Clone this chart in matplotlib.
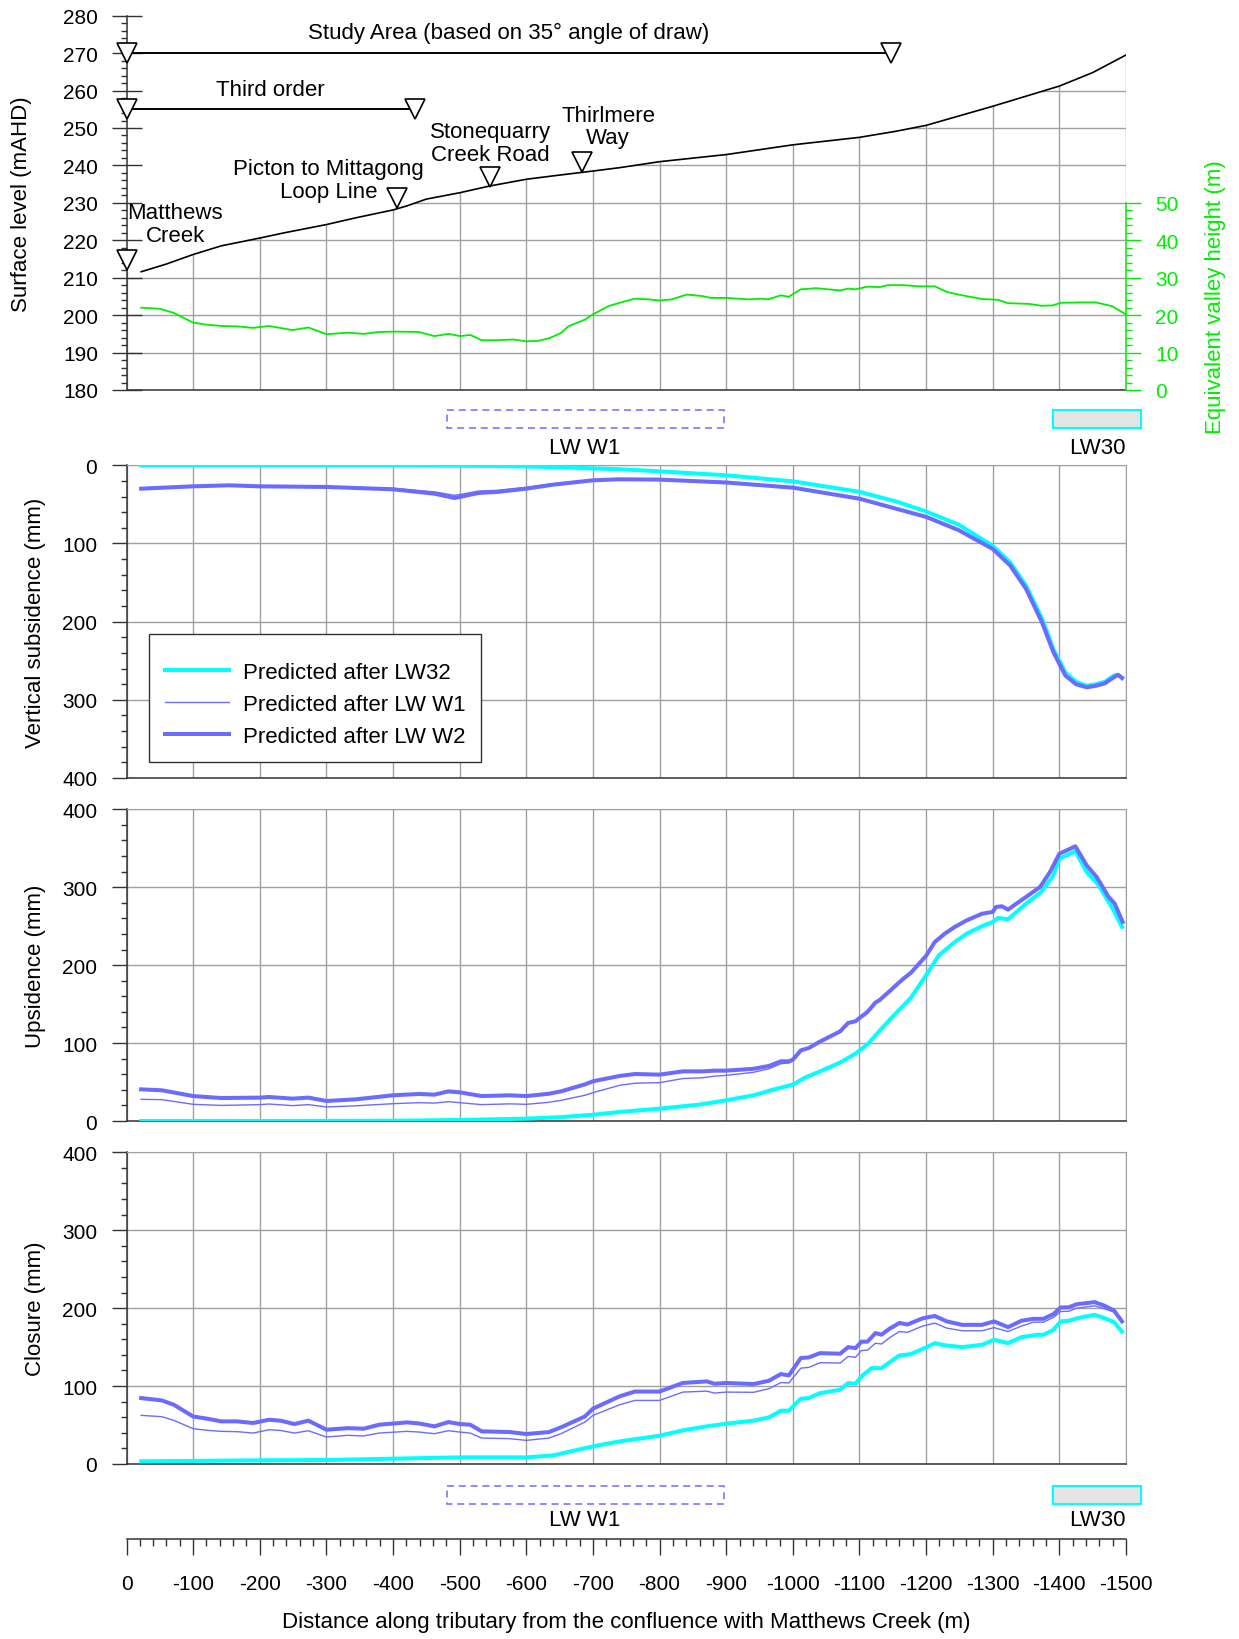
import matplotlib
matplotlib.use('Agg')
import matplotlib.pyplot as plt
from matplotlib.ticker import MultipleLocator, FixedLocator
from matplotlib.patches import Rectangle, Polygon

plt.rcParams['font.family'] = ['Liberation Sans', 'DejaVu Sans']
plt.rcParams['font.size'] = 16
plt.rcParams['axes.unicode_minus'] = False
plt.rcParams['lines.scale_dashes'] = False

# ---------------- data ----------------
surf_x = [-22, -59, -100, -142, -200, -237, -300, -344, -400, -421, -450, -500, -545, -600, -640,
          -700, -740, -800, -900, -1000, -1100, -1154, -1200, -1300, -1350, -1400, -1450, -1500]
surf_y = [211.6, 213.6, 216.2, 218.5, 220.6, 222.0, 224.2, 226.0, 228.1, 229.2, 231.0, 232.7, 234.5,
          236.3, 237.2, 238.5, 239.4, 241.0, 242.9, 245.5, 247.5, 249.1, 250.7, 255.8, 258.5, 261.2,
          264.8, 269.5]

valley_x = [-22, -50, -71, -100, -118, -142, -166, -190, -214, -249, -273, -300, -332, -356, -379, -403,
            -439, -462, -483, -501, -516, -533, -557, -581, -600, -617, -634, -652, -663, -688, -700,
            -723, -740, -763, -785, -800, -818, -841, -864, -877, -900, -935, -953, -963, -982, -994,
            -1000, -1012, -1035, -1071, -1083, -1094, -1112, -1130, -1143, -1166, -1189, -1213, -1231,
            -1254, -1284, -1308, -1323, -1355, -1373, -1390, -1402, -1432, -1455, -1479, -1500]
valley_y = [22.0, 21.7, 20.6, 18.0, 17.5, 17.1, 17.0, 16.6, 17.1, 16.0, 16.7, 14.9, 15.3, 15.0, 15.5,
            15.6, 15.5, 14.4, 15.0, 14.4, 14.7, 13.3, 13.3, 13.5, 13.0, 13.1, 13.8, 15.2, 17.0, 18.8,
            20.2, 22.4, 23.3, 24.4, 24.2, 23.9, 24.2, 25.5, 25.1, 24.6, 24.6, 24.2, 24.4, 24.2, 25.3,
            24.9, 25.6, 26.9, 27.2, 26.6, 27.1, 26.9, 27.6, 27.5, 28.0, 28.0, 27.7, 27.7, 26.2, 25.3,
            24.3, 24.1, 23.2, 23.0, 22.5, 22.6, 23.3, 23.4, 23.4, 22.4, 20.2]

# Vertical subsidence (mm)
subs_lw32_x = [-22, -100, -200, -300, -400, -500, -560, -600, -650, -700, -740, -800, -900, -1000,
               -1100, -1154, -1200, -1249, -1300, -1326, -1350, -1374, -1391, -1409, -1425, -1441,
               -1455, -1468, -1482, -1488, -1494]
subs_lw32_y = [0, 0, 0, 0, 0, 0.5, 1, 1.5, 2.5, 4, 5, 7.7, 12.8, 20.5, 34, 46, 59, 76, 103, 124, 154,
               196, 235, 265, 277, 282, 280, 277, 269, 268, 272]
subs_w_x = [-22, -100, -154, -200, -300, -400, -462, -492, -500, -528, -557, -600, -640, -700, -740,
            -800, -900, -1000, -1100, -1200, -1249, -1300, -1326, -1350, -1374, -1391, -1409, -1425,
            -1441, -1455, -1468, -1482, -1488, -1494]
subs_w1_y = [29.5, 26.5, 25.2, 26.5, 27.0, 29.5, 34.0, 38.4, 37.5, 33.0, 32.0, 28.2, 23.5, 18.5, 17.5,
             18.0, 21.8, 28.5, 42.5, 66, 83, 107, 128, 158, 201, 239, 269, 280, 284, 282, 279, 271,
             268, 272]
subs_w2_y = [29.9, 26.9, 25.6, 26.9, 27.7, 30.7, 36.3, 41.8, 40.5, 35.4, 34.0, 29.9, 24.8, 19.2, 17.9,
             18.3, 22, 28.6, 42.7, 66, 83, 107, 128, 158, 201, 239, 269, 280, 284, 282, 279, 271,
             268, 272]

# Upsidence (mm)
ups_lw32_x = [-22, -200, -400, -500, -600, -652, -700, -740, -800, -859, -900, -941, -976, -1000,
              -1018, -1041, -1071, -1094, -1112, -1130, -1147, -1177, -1200, -1219, -1243, -1261,
              -1284, -1300, -1308, -1323, -1350, -1373, -1391, -1400, -1424, -1441, -1459, -1480, -1494]
ups_lw32_y = [0, 0, 0.3, 1.3, 3, 5, 8, 11.6, 15.8, 21, 26.5, 33, 41.5, 46.6, 55.6, 63.7, 75, 86.4,
              98.3, 115.5, 131.3, 158, 187, 212.6, 229.6, 240.4, 250, 255.4, 260.5, 258.8, 278.9, 294,
              315, 336.7, 346, 319.6, 302.5, 272.5, 249]
ups_w_x = [-22, -53, -100, -142, -200, -214, -249, -273, -300, -344, -400, -439, -462, -483, -500,
           -533, -575, -600, -634, -652, -688, -700, -740, -763, -800, -835, -865, -882, -900, -941,
           -964, -982, -994, -1000, -1012, -1024, -1041, -1071, -1083, -1094, -1112, -1124, -1130,
           -1147, -1165, -1177, -1200, -1213, -1228, -1243, -1261, -1284, -1300, -1305, -1314, -1323,
           -1332, -1350, -1371, -1386, -1400, -1424, -1441, -1456, -1474, -1483, -1495]
ups_w2_y = [40.6, 39.4, 32, 29.5, 30, 30.8, 28.7, 30, 25.7, 27.8, 33, 34.7, 33.8, 38, 36.8, 32, 33, 32,
            35, 38, 47, 51, 57.8, 60.3, 59.5, 63.7, 63.7, 64.6, 64.6, 67, 70.6, 76.6, 76.6, 78.7,
            90.6, 93.7, 102, 115, 125.8, 128, 140, 152, 155, 168, 182, 190, 212, 229.6, 240.4, 249,
            257.5, 266, 268.3, 274.7, 275.5, 271.2, 276.8, 287.5, 300.3, 319.6, 343, 352.5, 328, 313,
            287.5, 279, 255.4]
ups_w1_y = [27.8, 27.4, 21.4, 20.0, 21.0, 21.8, 19.7, 21.0, 18.0, 19.5, 22.2, 23.5, 23.0, 24.8, 23.5,
            21.0, 22.0, 21.4, 24.0, 26.5, 33.0, 36.4, 45.8, 48.5, 49.2, 54.5, 55.5, 57.5, 58.6, 62.5,
            67.0, 73.5, 74.4, 77.0, 90.6, 93.7, 102, 115, 125.8, 128, 140, 152, 155, 168, 182, 190,
            212, 229.6, 240.4, 249, 257.5, 266, 268.3, 274.7, 275.5, 271.2, 276.8, 287.5, 300.3,
            319.6, 343, 352.5, 328, 313, 287.5, 279, 255.4]

# Closure (mm)
clo_lw32_x = [-22, -200, -300, -400, -500, -600, -640, -700, -740, -800, -835, -871, -900, -941, -964,
              -982, -994, -1012, -1024, -1041, -1071, -1083, -1094, -1103, -1118, -1133, -1147, -1160,
              -1177, -1200, -1213, -1231, -1254, -1284, -1302, -1323, -1343, -1367, -1376, -1391,
              -1402, -1414, -1426, -1453, -1468, -1482, -1494]
clo_lw32_y = [3.4, 4.7, 5.1, 6.8, 8.5, 8.5, 11, 22.6, 29, 36.3, 43.2, 48.3, 51.7, 55.6, 59.8, 68.4,
              68.4, 83.8, 84.6, 91, 95.3, 104, 103, 112.4, 123, 123, 131.6, 139.3, 141, 149.6, 155,
              152, 150, 153, 159.4, 155, 162.8, 165.8, 165.8, 172, 183, 183.8, 187, 191.5, 187, 182,
              170]
clo_w_x = [-22, -53, -71, -100, -124, -142, -166, -190, -214, -231, -252, -273, -300, -332, -356, -379,
           -421, -439, -462, -483, -500, -516, -533, -575, -600, -634, -652, -688, -700, -740, -763,
           -800, -835, -871, -882, -900, -941, -964, -982, -994, -1012, -1024, -1041, -1071, -1083,
           -1094, -1103, -1112, -1124, -1133, -1145, -1160, -1172, -1195, -1213, -1231, -1254, -1284,
           -1302, -1323, -1343, -1361, -1376, -1391, -1402, -1414, -1426, -1453, -1468, -1482, -1494]
clo_w2_y = [84.6, 81.6, 76, 61, 57.7, 54.7, 54.7, 52.6, 56.8, 55.6, 51.3, 55.6, 44, 46, 45.3, 50.4,
            53.4, 52, 48.3, 53.8, 51.3, 50.4, 41.9, 41, 38.5, 41, 47, 61, 71, 86.8, 93, 93, 104, 106,
            103, 104, 102.6, 106.8, 115.4, 113.7, 136, 136.8, 142.3, 141.5, 150, 148.7, 157, 157,
            168, 166, 173.5, 181, 179, 187, 190, 183, 178.6, 178.6, 183, 175.6, 183.8, 186.3, 186.3,
            192.3, 200.9, 201, 205, 207.7, 203, 197, 183]
clo_w1_y = [62.4, 60.7, 56, 45.3, 43, 41.9, 41.5, 39.7, 44, 43, 39.7, 42.7, 34.6, 36.8, 36, 39.7,
            41.9, 41, 38.9, 42.7, 41, 39.7, 33.3, 32.5, 30.3, 33.3, 38.9, 53.8, 62.4, 76, 81.6, 81.6,
            92.3, 93.5, 91, 92.3, 92, 96.6, 104.5, 104, 123, 124, 130, 129.5, 138, 137, 145.7, 146,
            155, 154, 162, 170, 169, 177, 180.8, 174.4, 171, 171, 175, 170, 177, 182, 182, 188,
            195.7, 196, 200, 203, 199, 195, 181.6]

series_labels = ['Predicted after LW32', 'Predicted after LW W1', 'Predicted after LW W2']
xtick_vals = list(range(0, -1501, -100))

# ---------------- styling ----------------
CYAN = '#00FFFF'
BLUE = '#6B6BFF'
GREEN = '#00EE00'
GRIDC = '#A0A0A0'
DARK = '#333333'
TXT = 16      # annotation / label size
TCK = 15      # tick label size

FW, FH = 1239, 1640
fig = plt.figure(figsize=(FW / 100, FH / 100), dpi=100)
L = 126.5 / FW
W = (1126 - 126.5) / FW


def pos(top_px, bot_px):
    return [L, 1 - bot_px / FH, W, (bot_px - top_px) / FH]


ax1 = fig.add_axes(pos(16.7, 391))
ax2 = ax1.twinx()
axS = fig.add_axes(pos(466.3, 779))
axU = fig.add_axes(pos(810.3, 1122))
axC = fig.add_axes(pos(1153.3, 1465))
axB = fig.add_axes([L, 1 - 1540 / FH, W, 0.0001])
axO = fig.add_axes([L, 0, W, 1])


def style_panel(ax, ylim, ylabel):
    ax.set_xlim(0, -1500)
    ax.set_ylim(*ylim)
    ax.xaxis.set_major_locator(FixedLocator(xtick_vals))
    ax.yaxis.set_major_locator(MultipleLocator(100))
    ax.yaxis.set_minor_locator(MultipleLocator(20))
    ax.grid(True, which='major', color=GRIDC, lw=1.0)
    ax.set_axisbelow(True)
    ax.tick_params(axis='x', which='both', length=0, labelbottom=False)
    ax.tick_params(axis='y', which='major', direction='out', length=11, width=1, color=DARK,
                   pad=10, labelsize=TCK)
    ax.tick_params(axis='y', which='minor', direction='out', length=4.5, width=1, color=DARK)
    for s in ['top', 'right']:
        ax.spines[s].set_color(GRIDC)
    for s in ['left', 'bottom']:
        ax.spines[s].set_color(DARK)
        ax.spines[s].set_linewidth(1.1)
    ax.set_ylabel(ylabel, fontsize=TXT)
    ax.yaxis.set_label_coords(-0.0805, 0.5)


# ---- top panel ----
ax1.set_xlim(0, -1500)
ax1.set_ylim(180, 280)
ax1.xaxis.set_major_locator(FixedLocator(xtick_vals))
ax1.yaxis.set_major_locator(MultipleLocator(10))
ax1.yaxis.set_minor_locator(MultipleLocator(2))
ax1.grid(True, which='major', color=GRIDC, lw=1.0)
ax1.set_axisbelow(True)
ax1.tick_params(axis='x', which='both', length=0, labelbottom=False)
ax1.tick_params(axis='y', which='major', direction='inout', length=21, width=1, color=DARK, pad=10,
                labelsize=TCK)
ax1.tick_params(axis='y', which='minor', direction='out', length=4.5, width=1, color=DARK)
ax1.spines['top'].set_visible(False)
ax1.spines['right'].set_visible(False)
for s in ['left', 'bottom']:
    ax1.spines[s].set_color(DARK)
    ax1.spines[s].set_linewidth(1.1)
ax1.set_ylabel('Surface level (mAHD)', fontsize=TXT)
ax1.yaxis.set_label_coords(-0.0945, 0.5)

clip_poly = Polygon([(5, 179), (5, surf_y[0])] + list(zip(surf_x, surf_y)) + [(-1505, surf_y[-1]),
                                                                              (-1505, 179)],
                    closed=True, transform=ax1.transData, facecolor='none', edgecolor='none')
ax1.xaxis.get_major_ticks(len(xtick_vals))
for t in ax1.xaxis.get_major_ticks() + ax1.yaxis.get_major_ticks():
    t.gridline.set_clip_path(clip_poly)

ax1.plot(surf_x, surf_y, color='black', lw=1.2, zorder=3)

# annotations
ax1.plot([0, -1147], [270, 270], color='black', lw=1.4, clip_on=False, zorder=4)
ax1.plot([0, -433], [255, 255], color='black', lw=1.4, clip_on=False, zorder=4)
tri = dict(marker='v', ms=14, mfc='white', mec='black', mew=1.2, ls='none', clip_on=False, zorder=5)
ax1.plot([0, -1147, 0, -433, -406, -546, -684, 0],
         [270, 270, 255, 255, 231.4, 237.0, 240.9, 214.6], **tri)
ax1.text(-574, 275.5, 'Study Area (based on 35° angle of draw)', ha='center', va='center',
         fontsize=TXT)
ax1.text(-216, 260.4, 'Third order', ha='center', va='center', fontsize=TXT)
ax1.text(-546, 246.0, 'Stonequarry\nCreek Road', ha='center', va='center', fontsize=TXT,
         linespacing=1.12)
ax1.text(-723, 250.4, 'Thirlmere\nWay', ha='center', va='center', fontsize=TXT, linespacing=1.12)
ax1.text(-303, 236.0, 'Picton to Mittagong\nLoop Line', ha='center', va='center', fontsize=TXT,
         linespacing=1.12)
ax1.text(-73, 224.3, 'Matthews\nCreek', ha='center', va='center', fontsize=TXT, linespacing=1.12)

# green axis
ax2.set_ylim(0, 100)
ax2.plot(valley_x, valley_y, color=GREEN, lw=1.3, zorder=3)
for s in ['left', 'top', 'bottom']:
    ax2.spines[s].set_visible(False)
ax2.spines['right'].set_bounds(0, 50)
ax2.spines['right'].set_color(GREEN)
ax2.spines['right'].set_linewidth(1.1)
ax2.yaxis.set_major_locator(FixedLocator([0, 10, 20, 30, 40, 50]))
ax2.yaxis.set_minor_locator(FixedLocator([v for v in range(2, 50, 2) if v % 10]))
ax2.tick_params(axis='y', which='major', direction='out', length=11, width=1, color=GREEN,
                labelcolor=GREEN, pad=10, labelsize=TCK)
ax2.tick_params(axis='y', which='minor', direction='out', length=4.5, width=1, color=GREEN)
ax2.set_ylabel('Equivalent valley height (m)', color=GREEN, fontsize=TXT)
ax2.yaxis.set_label_coords(1.079, 0.251)

# ---- vertical subsidence ----
style_panel(axS, (400, 0), 'Vertical subsidence (mm)')
axS.plot(subs_lw32_x, subs_lw32_y, color=CYAN, lw=2.9, label=series_labels[0], zorder=3)
axS.plot(subs_w_x, subs_w1_y, color=BLUE, lw=1.0, label=series_labels[1], zorder=4)
axS.plot(subs_w_x, subs_w2_y, color=BLUE, lw=2.9, label=series_labels[2], zorder=3)
leg = axS.legend(loc='lower left', bbox_to_anchor=(0.023, 0.05), borderaxespad=0, fancybox=False,
                 edgecolor=DARK, framealpha=1, fontsize=TXT, handlelength=2.86, handletextpad=0.66,
                 labelspacing=0.5, borderpad=0.7, title=' ', title_fontsize=1.5)
leg.get_frame().set_linewidth(1.0)

# ---- upsidence ----
style_panel(axU, (0, 400), 'Upsidence (mm)')
axU.plot(ups_lw32_x, ups_lw32_y, color=CYAN, lw=2.9, zorder=3)
axU.plot(ups_w_x, ups_w2_y, color=BLUE, lw=2.9, zorder=3)
axU.plot(ups_w_x, ups_w1_y, color=BLUE, lw=1.0, zorder=4)

# ---- closure ----
style_panel(axC, (0, 400), 'Closure (mm)')
axC.plot(clo_lw32_x, clo_lw32_y, color=CYAN, lw=2.9, zorder=3)
axC.plot(clo_w_x, clo_w2_y, color=BLUE, lw=2.9, zorder=3)
axC.plot(clo_w_x, clo_w1_y, color=BLUE, lw=1.0, zorder=4)

# ---- bottom distance axis ----
axB.set_xlim(0, -1500)
axB.set_yticks([])
axB.patch.set_visible(False)
for s in ['left', 'right', 'top']:
    axB.spines[s].set_visible(False)
axB.spines['bottom'].set_color(DARK)
axB.spines['bottom'].set_linewidth(1.1)
axB.xaxis.set_major_locator(FixedLocator(xtick_vals))
axB.xaxis.set_minor_locator(MultipleLocator(20))
axB.tick_params(axis='x', which='major', direction='out', length=11.5, width=1, color=DARK, pad=13.5,
                labelsize=TCK)
axB.tick_params(axis='x', which='minor', direction='out', length=5, width=1, color=DARK)
axB.set_xlabel('Distance along tributary from the confluence with Matthews Creek (m)', fontsize=TXT,
               labelpad=13)

# ---- overlay: panel-position rectangles ----
axO.set_xlim(0, -1500)
axO.set_ylim(FH, 0)
axO.axis('off')
axO.patch.set_visible(False)
for top, lab_y in [(411, 448.6), (1487, 1521)]:
    axO.add_patch(Rectangle((-481, top), -415, 17.5, facecolor='none', edgecolor=BLUE, lw=1.1,
                            ls=(0, (5, 3.5)), clip_on=False))
    axO.add_patch(Rectangle((-1391, top), -132, 17.5, facecolor='#E4E4E4', edgecolor=CYAN, lw=1.5,
                            clip_on=False))
    axO.text(-688, lab_y, 'LW W1', ha='center', va='center', fontsize=TXT)
    axO.text(-1500, lab_y, 'LW30', ha='right', va='center', fontsize=TXT)

fig.savefig('out.png', dpi=100)
